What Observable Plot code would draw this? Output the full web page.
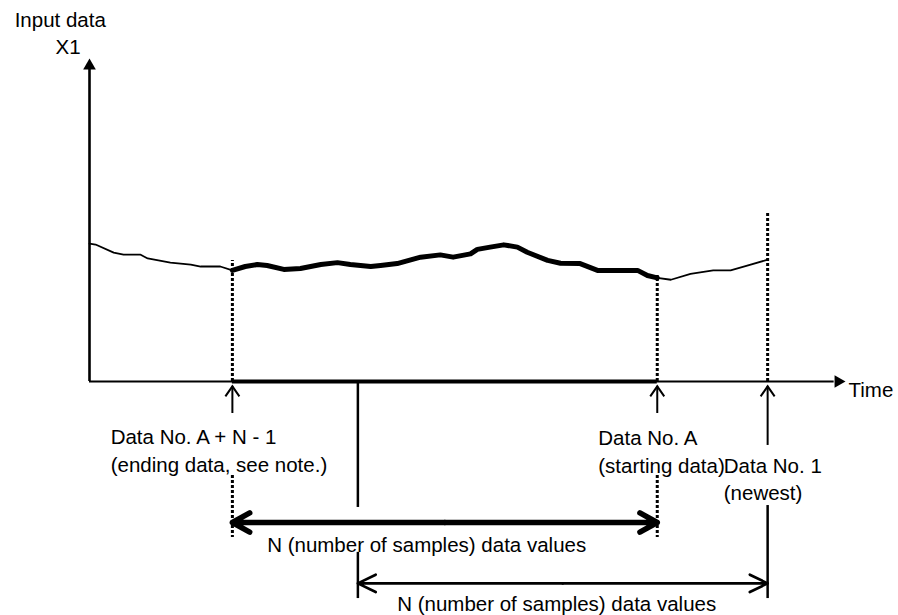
<!DOCTYPE html>
<html>
<head>
<meta charset="utf-8">
<script src="https://cdn.jsdelivr.net/npm/d3@7"></script>
<script src="https://cdn.jsdelivr.net/npm/@observablehq/plot@0.6"></script>
<style>
  html, body { margin: 0; padding: 0; background: #fff; }
  svg { display: block; }
</style>
</head>
<body>
<div id="chart"></div>
<script>
// ---- Data (time units 0..100, value units 0..100) ----
const curveTime = [
  0, 0.8, 3.2, 4.5, 6.7, 7.7, 10.7, 13.4, 14.7, 17.3,
  18.9, 20.6, 22.2, 23.5, 25.7, 27.9, 30.6, 32.8, 34.5, 37.2,
  38.5, 40.7, 43.8, 46.4, 48.1, 50.4, 51.3, 53.0, 54.8, 56.6,
  57.9, 60.6, 62.3, 64.9, 67.2, 72.5, 73.8, 75.1, 76.9, 79.5,
  82.5, 84.8, 87.0, 89.7
];
const curveValue = [
  42.7, 42.4, 39.9, 39.3, 39.3, 38.1, 36.8, 36.2, 35.6, 35.6,
  34.4, 35.6, 36.2, 35.9, 34.7, 35.0, 36.2, 36.8, 36.2, 35.6,
  35.9, 36.5, 38.5, 39.2, 38.5, 39.5, 40.9, 41.6, 42.3, 41.6,
  40.0, 37.5, 36.6, 36.5, 34.4, 34.4, 32.8, 32.1, 31.5, 33.3,
  34.4, 34.4, 35.9, 37.7
];
// Data markers on the time axis: ending (A+N-1), starting (A), newest (1)
const markerTimes = [18.9, 75.1, 89.7];
const markerLabels = [
  "Data No. A + N - 1\n(ending data, see note.)",
  "Data No. A\n(starting data)",
  "Data No. 1\n(newest)"
];
// Previous window start (the solid divider)
const previousWindowStart = 35.5;
// The two N-sample windows
const windowFrom = [18.9, 35.5];
const windowTo = [75.1, 89.7];
const windowLabel = "N (number of samples) data values";
const axisLabels = ["Input data", "X1", "Time"];

// ---- Build ----
const curve = curveTime.map((t, i) => ({t, v: curveValue[i]}));
const [tEnd, tStart, tNewest] = markerTimes;
const windowCurve = curve.filter(d => d.t >= tEnd && d.t <= tStart);

const font = "'Liberation Sans', Arial, Helvetica, sans-serif";
const fs = 20.5;
const dotted = {strokeWidth: 3, strokeDasharray: "3,2"};

// open chevron pointing up, tip at the symbol origin
const chevronUp = {
  draw(context) {
    context.moveTo(-7, 10);
    context.lineTo(0, 0);
    context.lineTo(7, 10);
  }
};

const mid0 = (windowFrom[0] + windowTo[0]) / 2;
const mid1 = (windowFrom[1] + windowTo[1]) / 2;

const plot = Plot.plot({
  width: 898,
  height: 615,
  marginLeft: 89,
  marginRight: 53,
  marginTop: 58,
  marginBottom: 234,
  x: {domain: [0, 100], axis: null},
  y: {domain: [0, 100], axis: null},
  style: {fontFamily: font, fontSize: fs + "px", color: "black", background: "white", overflow: "visible"},
  marks: [
    // axes
    Plot.ruleX([0], {y1: 0, y2: 97, strokeWidth: 2.6}),
    Plot.ruleY([0], {x1: 0, x2: 98.5, strokeWidth: 2}),
    Plot.ruleY([0], {x1: tEnd, x2: tStart, strokeWidth: 4}),
    Plot.dot([0], {x: 0, y: 100, symbol: "triangle", r: 4.7, fill: "black", stroke: null, dy: 7.3}),
    Plot.dot([0], {x: 100, y: 0, symbol: "triangle", r: 4.7, fill: "black", stroke: null, rotate: 90, dx: -7.3}),

    // dotted marker lines
    Plot.ruleX(markerTimes, {x: d => d, y1: 0, y2: [37.5, 32.8, 52.0], ...dotted}),
    Plot.ruleX([tEnd, tStart], {x: d => d, y1: -29.1, y2: -48.3, ...dotted}),

    // the curve: thin full record, thick over the sample window
    Plot.line(curve, {x: "t", y: "v", strokeWidth: 1.8, strokeLinejoin: "round", strokeLinecap: "round"}),
    Plot.line(windowCurve, {x: "t", y: "v", strokeWidth: 5, strokeLinejoin: "round", strokeLinecap: "round"}),

    // up arrows under the axis (shaft + open head)
    Plot.ruleX(markerTimes, {x: d => d, y1: [-9.9, -9.9, -19.8], y2: -1.5, strokeWidth: 2}),
    Plot.dot(markerTimes, {x: d => d, y: -1.5, symbol: chevronUp, fill: "none", stroke: "black", strokeWidth: 2}),

    // solid dividers
    Plot.ruleX([previousWindowStart], {x: d => d, y1: 0, y2: -39.0, strokeWidth: 2.5}),
    Plot.ruleX([previousWindowStart], {x: d => d, y1: -52.9, y2: -67.2, strokeWidth: 2.5}),
    Plot.ruleX([tNewest], {x: d => d, y1: -38.4, y2: -67.2, strokeWidth: 2.5}),

    // double arrows for the two windows
    Plot.arrow([windowFrom[0], windowTo[0]], {x1: mid0, x2: d => d, y1: -43.65, y2: -43.65,
      strokeWidth: 5.5, headLength: 5.4, headAngle: 58, strokeLinejoin: "round", strokeLinecap: "round"}),
    Plot.arrow([windowFrom[1], windowTo[1]], {x1: mid1, x2: d => d, y1: -62.5, y2: -62.5,
      strokeWidth: 2.7, headLength: 11, headAngle: 52, strokeLinejoin: "round", strokeLinecap: "round"}),

    // texts
    Plot.text([axisLabels[0]], {x: -9.9, y: 109.6, text: d => d, textAnchor: "start", lineAnchor: "bottom", fontSize: fs}),
    Plot.text([axisLabels[1]], {x: -4.5, y: 101.5, text: d => d, textAnchor: "start", lineAnchor: "bottom", fontSize: fs}),
    Plot.text([axisLabels[2]], {x: 100.4, y: -4.95, text: d => d, textAnchor: "start", lineAnchor: "bottom", fontSize: fs}),
    Plot.text(markerLabels, {x: [2.8, 67.3, 83.9], y: [-27.9, -28.2, -36.8], text: d => d,
      textAnchor: "start", lineAnchor: "bottom", lineHeight: 1.35, fontSize: fs}),
    Plot.text([windowLabel, windowLabel], {x: [44.6, 61.8], y: [-52.9, -70.9], text: d => d,
      textAnchor: "middle", lineAnchor: "bottom", fontSize: fs})
  ]
});

document.getElementById("chart").appendChild(plot);
</script>
</body>
</html>
